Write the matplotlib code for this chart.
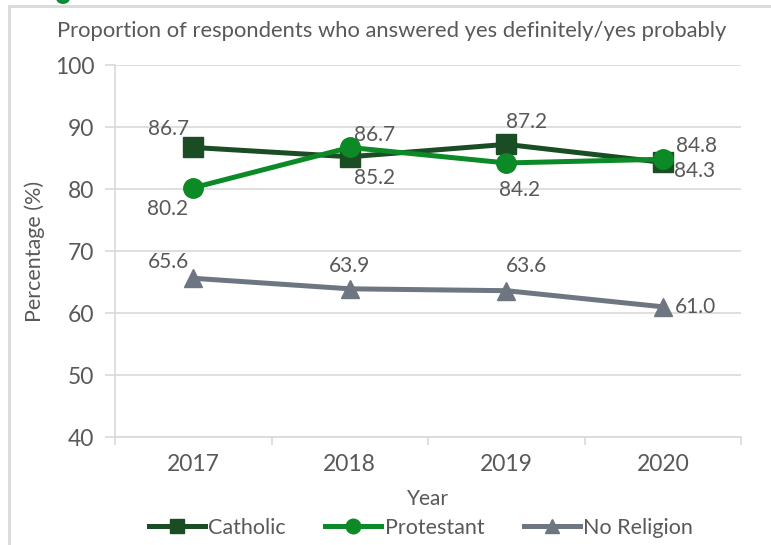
import matplotlib
matplotlib.use("Agg")
import matplotlib.pyplot as plt
from matplotlib.patches import Rectangle, Circle

plt.rcParams['font.family'] = ['Lato', 'DejaVu Sans']

years = ["2017", "2018", "2019", "2020"]
catholic = [86.7, 85.2, 87.2, 84.3]
protestant = [80.2, 86.7, 84.2, 84.8]
no_religion = [65.6, 63.9, 63.6, 61.0]

title = "Proportion of respondents who answered yes definitely/yes probably"

col_c = "#1b4d24"
col_p = "#0b8a25"
col_n = "#6e7781"
txt = "#595959"

fig = plt.figure(figsize=(7.71, 5.45), dpi=100)
ax = fig.add_axes([115/771, 1-437/545, (741-115)/771, (437-65)/545])

x = range(len(years))
ax.plot(x, catholic, color=col_c, lw=3.6, marker='s', ms=14, label='Catholic', zorder=3)
ax.plot(x, protestant, color=col_p, lw=3.6, marker='o', ms=14, label='Protestant', zorder=4)
ax.plot(x, no_religion, color=col_n, lw=3.6, marker='^', ms=13, label='No Religion', zorder=3)

offs_c = [(-25, 18), (25, -21), (20, 22), (32, -9)]
offs_p = [(-26, -21), (25, 12), (13, -27), (34, 13)]
offs_n = [(-25, 16), (0, 23), (20, 25), (33, 0)]
for vals, offs in [(catholic, offs_c), (protestant, offs_p), (no_religion, offs_n)]:
    for i, (v, o) in enumerate(zip(vals, offs)):
        ax.annotate(f"{v:.1f}", (i, v), xytext=o, textcoords='offset pixels',
                    ha='center', va='center', fontsize=15, color=txt, zorder=6)

ax.set_xlim(-0.5, 3.5)
ax.set_ylim(40, 100)
ax.set_yticks(range(40, 101, 10))
ax.set_xticks(list(x))
ax.set_xticklabels(years)
ax.set_xticks([-0.5, 0.5, 1.5, 2.5, 3.5], minor=True)
ax.tick_params(axis='x', which='major', length=0, labelsize=16.5, labelcolor=txt, pad=12)
ax.tick_params(axis='x', which='minor', length=6, color='#d9d9d9', width=1.2, direction='out')
ax.tick_params(axis='y', length=7, color='#d9d9d9', width=1.2, labelsize=16.5, labelcolor=txt, pad=8)
ax.grid(axis='y', color='#d9d9d9', lw=1.2)
ax.set_axisbelow(True)
for s in ['top', 'right']:
    ax.spines[s].set_visible(False)
for s in ['left', 'bottom']:
    ax.spines[s].set_color('#d9d9d9')
    ax.spines[s].set_linewidth(1.2)

ax.set_ylabel("Percentage (%)", fontsize=15.5, color=txt, labelpad=7)
ax.set_xlabel("Year", fontsize=15, color=txt, labelpad=10)

fig.text(392/771, 1-31/545, title, ha='center', va='center', fontsize=15.8, color=txt)

leg = fig.legend(loc='center', bbox_to_anchor=(421/771, 1-528/545), ncol=3, frameon=False,
                 fontsize=15.5, labelcolor=txt, handlelength=2.6, columnspacing=1.85,
                 handletextpad=0.15, markerscale=0.75, borderpad=0, borderaxespad=0)

fig.patches.append(Rectangle((9/771, -0.05), 1.0, 1-6/545+0.05, transform=fig.transFigure,
                             fill=False, ec='#d9d9d9', lw=2))
fig.patches.append(Circle((63/771, 1+1/545), 6/771, transform=fig.transFigure,
                          color='#0b8a3a', clip_on=False))

fig.savefig("out.png", dpi=100)
